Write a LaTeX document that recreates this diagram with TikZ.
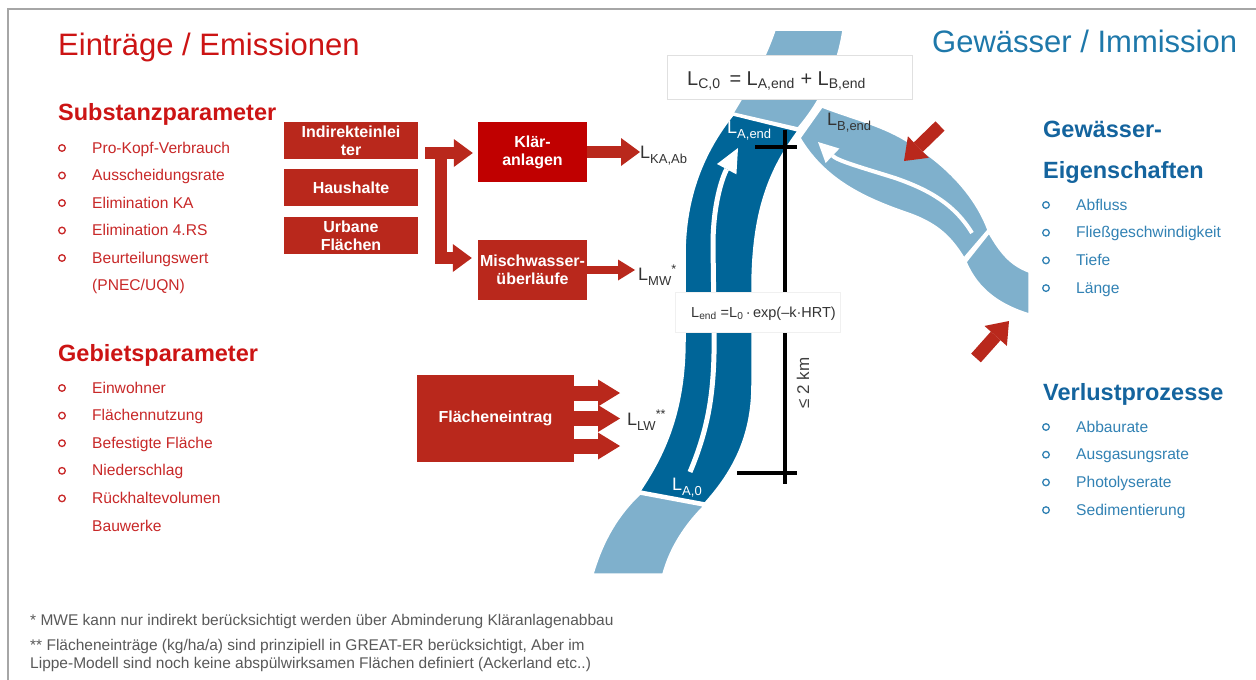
\documentclass[tikz,border=0pt]{standalone}
\usepackage{fontspec}
\setmainfont{Liberation Sans}
\usetikzlibrary{arrows.meta,positioning}

\definecolor{boxred}{RGB}{185,40,28}
\definecolor{klared}{RGB}{192,0,0}
\definecolor{titlered}{RGB}{204,20,20}
\definecolor{itemred}{RGB}{200,40,40}
\definecolor{titleblue}{RGB}{30,120,170}
\definecolor{headblue}{RGB}{20,100,158}
\definecolor{itemblue}{RGB}{50,130,180}
\definecolor{riverdark}{RGB}{0,101,152}
\definecolor{riverlight}{RGB}{127,176,204}
\definecolor{framegrey}{RGB}{166,166,166}
\definecolor{notegrey}{RGB}{89,89,89}

\newcommand{\lowsub}[1]{\raisebox{-0.32em}{\fontsize{13}{13}\selectfont #1}}

\tikzset{
  redbox/.style={fill=boxred, text=white, font=\bfseries\fontsize{16}{18}\selectfont,
    align=center, inner sep=0pt, minimum width=134pt, minimum height=37pt},
  bigarrow/.style={draw=boxred, line width=12pt, -{Triangle[length=19pt, width=28pt, line width=0pt]}},
  midarrow/.style={draw=boxred, line width=8pt, -{Triangle[length=17pt, width=21pt, line width=0pt]}},
  titletext/.style={font=\fontsize{31}{36}\selectfont, anchor=base west, inner sep=0pt},
  headtext/.style={font=\bfseries\fontsize{23.5}{28}\selectfont, anchor=base west, inner sep=0pt},
  itemtext/.style={font=\fontsize{15.6}{18}\selectfont, anchor=base west, inner sep=0pt},
  bulletdot/.style={line width=1.3pt},
  loadtext/.style={font=\fontsize{18}{20}\selectfont, text=black!80, anchor=base west, inner sep=1pt},
  formbox/.style={fill=white, draw=black!12, line width=0.8pt, inner sep=0pt},
  riverpart/.style={draw=white, line width=1.5pt},
  flowline/.style={draw=white, line width=5pt},
  scalebar/.style={draw=black, line width=4pt},
  notetext/.style={font=\fontsize{15.5}{17}\selectfont, text=notegrey, anchor=base west, inner sep=0pt}
}

\begin{document}
\begin{tikzpicture}[x=1pt, y=-1pt]
  \useasboundingbox (0,0) rectangle (1256,680);
  \fill[white] (0,0) rectangle (1256,680);
  % frame
  \draw[framegrey, line width=2pt] (7,9) -- (1256,9);
  \draw[framegrey, line width=2pt] (8,9) -- (8,680);

  % river
  \fill[riverlight, riverpart] (775,30) -- (843,30) .. controls (838,65) and (822,100) .. (798,128)
    -- (733,113) .. controls (750,85) and (765,60) .. (775,30) -- cycle;
  \fill[riverdark, riverpart] (733,115) -- (798,131) .. controls (765,175) and (752,220) .. (752,290)
    -- (752,385) .. controls (752,440) and (730,475) .. (705,503)
    -- (640,491) .. controls (668,450) and (685,405) .. (685,340)
    -- (685,255) .. controls (685,195) and (705,150) .. (733,115) -- cycle;
  \fill[riverlight, riverpart] (640,494) -- (704,506) .. controls (685,525) and (670,548) .. (663,574)
    -- (593,574) .. controls (603,540) and (618,515) .. (640,494) -- cycle;
  \fill[riverlight, riverpart] (822,107) .. controls (850,118) and (880,125) .. (905,140)
    .. controls (945,163) and (975,195) .. (988,230)
    -- (964,258) .. controls (950,235) and (935,222) .. (905,212)
    .. controls (865,198) and (825,180) .. (800,138) -- cycle;
  \fill[riverlight, riverpart] (989,233) .. controls (1000,252) and (1010,265) .. (1029,272)
    -- (1029,314) .. controls (1000,305) and (978,290) .. (966,262) -- cycle;

  % flow direction
  \draw[flowline, -{Triangle[length=24pt, width=22pt, line width=0pt]}] (690,472)
    .. controls (712,420) and (715,380) .. (714,320) -- (713,245)
    .. controls (713,205) and (722,178) .. (738,148);
  \draw[flowline, line width=4pt, -{Triangle[length=20pt, width=20pt, line width=0pt]}] (972,233)
    .. controls (955,205) and (930,190) .. (895,178)
    .. controls (860,167) and (838,161) .. (818,142);

  % scale bar
  \coordinate (bartop) at (785,130);
  \coordinate (barbot) at (785,484);
  \draw[scalebar] (bartop) -- (barbot);
  \draw[scalebar] (755,147) -- (797,147);
  \draw[scalebar] (737,473) -- (797,473);
  \node[rotate=90, font=\fontsize{17}{18}\selectfont, text=black!75, inner sep=0pt] (dist) at (803,383) {≤ 2 km};

  % formulas
  \node[formbox, minimum width=245pt, minimum height=44pt] (mixbox) at (789.5,77) {};
  \node[loadtext, font=\fontsize{20}{22}\selectfont] (mixeq) at (686,85)
    {L\textsubscript{C,0}\, = L\textsubscript{A,end} + L\textsubscript{B,end}};
  \node[formbox, draw=black!6, minimum width=165pt, minimum height=40pt] (decaybox) at (757.5,312) {};
  \node[loadtext, font=\fontsize{14.5}{16}\selectfont] (decayeq) at (690,317)
    {L\textsubscript{end} =L\textsubscript{0}\,·\,exp(–k·HRT)};

  % loads in the river
  \node[loadtext, text=white] (laend) at (726,133) {L\lowsub{A,end}};
  \node[loadtext, text=white] (la0) at (671,490) {L\lowsub{A,0}};
  \node[loadtext] (lbend) at (826,125) {L\lowsub{B,end}};

  % sources
  \node[redbox] (ind) at (351,140.5) {Indirekteinlei\\ter};
  \node[redbox, below=10pt of ind] (haus) {Haushalte};
  \node[redbox, below=10pt of haus] (urban) {Urbane\\Flächen};
  \node[redbox, fill=klared, minimum width=109pt, minimum height=60pt] (kla) at (532.5,152) {Klär-\\anlagen};
  \node[redbox, minimum width=109pt, minimum height=60pt] (misch) at (532.5,270) {Mischwasser-\\überläufe};
  \node[redbox, minimum width=157pt, minimum height=87pt] (flae) at (495.5,418.5) {Flächeneintrag};

  \node[loadtext] (lka) at (639,158) {L\lowsub{KA,Ab}};
  \node[loadtext] (lmw) at (637,280) {L\lowsub{MW}\textsuperscript{*}};
  \node[loadtext] (llw) at (626,425) {L\lowsub{LW}\textsuperscript{**}};

  \coordinate (fork) at ([xshift=7pt, yshift=-12.5pt]ind.east);
  \draw[bigarrow] (fork) -- ([xshift=-5pt]kla.west |- fork);
  \draw[bigarrow] ([xshift=16pt]fork) |- ([xshift=-6pt, yshift=12pt]misch.west);
  \draw[bigarrow] (kla.east) -- ([xshift=1pt]kla.east -| lka.west);
  \draw[midarrow] (misch.east) -- ([xshift=-2pt]misch.east -| lmw.west);
  \foreach \dy in {25.5,0,-27.5}
    \draw[bigarrow, line width=15pt, -{Triangle[length=22pt, width=27pt, line width=0pt]}]
      ([yshift=\dy pt]flae.east) -- ([xshift=-6pt, yshift=\dy pt]flae.east -| llw.west);

  % arrows onto the river
  \coordinate (intop) at (940,126);
  \coordinate (intopend) at (904,161);
  \coordinate (inbot) at (976,358);
  \coordinate (inbotend) at (1009,321);
  \draw[bigarrow, line width=13pt, -{Triangle[length=20pt, width=30pt, line width=0pt]}] (intop) -- (intopend);
  \draw[bigarrow, line width=13pt, -{Triangle[length=20pt, width=30pt, line width=0pt]}] (inbot) -- (inbotend);

  % left: emissions
  \node[titletext, text=titlered] (emis) at (58,55) {Einträge / Emissionen};
  \node[headtext, text=titlered] (subst) at (58,120) {Substanzparameter};
  \foreach \txt [count=\i] in {Pro-Kopf-Verbrauch, Ausscheidungsrate, Elimination KA,
      Elimination 4.RS, Beurteilungswert} {
    \node[itemtext, text=itemred] (sp\i) at (92,{153+27.5*(\i-1)}) {\txt};
    \draw[bulletdot, itemred] (62,{148+27.5*(\i-1)}) circle[radius=3.3pt];
  }
  \node[itemtext, text=itemred] (sp6) at (92,290.5) {(PNEC/UQN)};
  \node[headtext, text=titlered] (gebiet) at (58,361) {Gebietsparameter};
  \foreach \txt [count=\i] in {Einwohner, Flächennutzung, Befestigte Fläche,
      Niederschlag, Rückhaltevolumen} {
    \node[itemtext, text=itemred] (gp\i) at (92,{393+27.6*(\i-1)}) {\txt};
    \draw[bulletdot, itemred] (62,{388+27.6*(\i-1)}) circle[radius=3.3pt];
  }
  \node[itemtext, text=itemred] (gp6) at (92,531) {Bauwerke};

  % right: water body
  \node[titletext, text=titleblue] (immis) at (932,52) {Gewässer / Immission};
  \node[headtext, text=headblue] (gew1) at (1043,137) {Gewässer-};
  \node[headtext, text=headblue] (gew2) at (1043,178) {Eigenschaften};
  \foreach \txt [count=\i] in {Abfluss, Fließgeschwindigkeit, Tiefe, Länge} {
    \node[itemtext, text=itemblue] (ge\i) at (1076,{210+27.7*(\i-1)}) {\txt};
    \draw[bulletdot, itemblue] (1046,{205+27.7*(\i-1)}) circle[radius=3.3pt];
  }
  \node[headtext, text=headblue] (verl) at (1043,400) {Verlustprozesse};
  \foreach \txt [count=\i] in {Abbaurate, Ausgasungsrate, Photolyserate, Sedimentierung} {
    \node[itemtext, text=itemblue] (vp\i) at (1076,{432+27.7*(\i-1)}) {\txt};
    \draw[bulletdot, itemblue] (1046,{427+27.7*(\i-1)}) circle[radius=3.3pt];
  }

  % notes
  \node[notetext] (note1) at (30,625) {* MWE kann nur indirekt berücksichtigt werden über Abminderung Kläranlagenabbau};
  \node[notetext] (note2) at (30,650) {** Flächeneinträge (kg/ha/a) sind prinzipiell in GREAT-ER berücksichtigt, Aber im};
  \node[notetext] (note3) at (30,668) {Lippe-Modell sind noch keine abspülwirksamen Flächen definiert (Ackerland etc..)};
\end{tikzpicture}
\end{document}
